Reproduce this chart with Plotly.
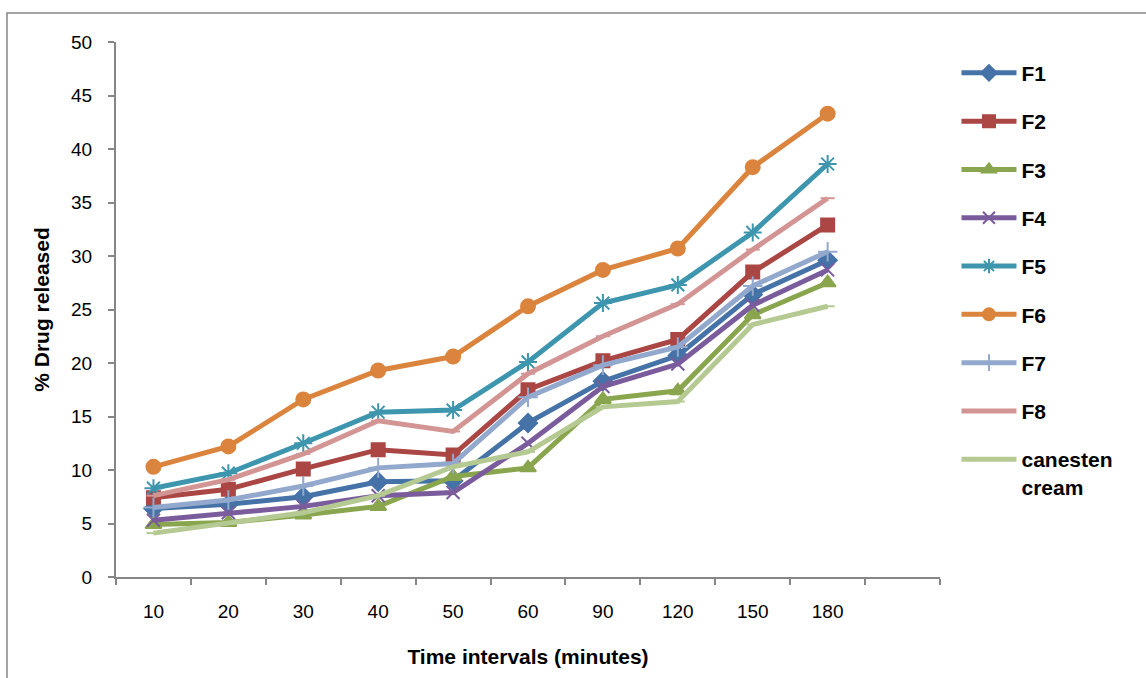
import plotly.graph_objects as go

times = ["10", "20", "30", "40", "50", "60", "90", "120", "150", "180"]
series_names = ["F1", "F2", "F3", "F4", "F5", "F6", "F7", "F8", "canesten<br>cream"]

F1 = [6.4, 6.8, 7.5, 8.9, 9.0, 14.4, 18.3, 20.7, 26.4, 29.6]
F2 = [7.4, 8.2, 10.1, 11.9, 11.4, 17.5, 20.2, 22.2, 28.5, 32.9]
F3 = [4.9, 5.1, 5.8, 6.6, 9.4, 10.2, 16.6, 17.4, 24.5, 27.5]
F4 = [5.3, 6.0, 6.6, 7.6, 7.9, 12.5, 17.8, 19.9, 25.4, 28.7]
F5 = [8.3, 9.7, 12.5, 15.4, 15.6, 20.1, 25.6, 27.3, 32.2, 38.6]
F6 = [10.3, 12.2, 16.6, 19.3, 20.6, 25.3, 28.7, 30.7, 38.3, 43.3]
F7 = [6.5, 7.2, 8.5, 10.2, 10.6, 16.8, 19.8, 21.5, 27.2, 30.4]
F8 = [7.6, 9.1, 11.5, 14.6, 13.6, 19.0, 22.5, 25.5, 30.6, 35.4]
canesten = [4.1, 5.0, 6.0, 7.6, 10.3, 11.7, 15.9, 16.4, 23.6, 25.3]

values = [F1, F2, F3, F4, F5, F6, F7, F8, canesten]
colors = ["#4572A7", "#AA4643", "#89A54E", "#7A5C9C", "#3D96AE",
          "#DB843D", "#92A8CD", "#D39594", "#B5CA92"]
symbols = ["diamond", "square", "triangle-up", "x-thin-open", "asterisk-open",
           "circle", "cross-thin-open", "line-ew-open", "line-ew-open"]
msizes = [14, 13, 14, 13, 15, 14, 14, 10, 10]

FONT = "Liberation Sans, Arial, sans-serif"
xs = list(range(len(times)))
nslots = len(times) + 1

fig = go.Figure()
for i, (name, vals) in enumerate(zip(series_names, values)):
    fig.add_trace(go.Scatter(
        x=xs, y=vals, name=name, mode="lines+markers",
        legendgroup=f"g{i}",
        line=dict(color=colors[i], width=5),
        marker=dict(symbol=symbols[i], size=msizes[i], color=colors[i],
                    line=dict(color=colors[i], width=2)),
    ))

fig.update_layout(
    width=1146, height=678,
    margin=dict(l=116, r=206, t=42, b=101),
    paper_bgcolor="white", plot_bgcolor="white",
    font=dict(family=FONT, color="black", size=19),
    showlegend=True,
    legend=dict(
        x=1.02, y=0.98, xanchor="left", yanchor="top",
        font=dict(family=FONT, size=21, color="black", weight="bold"),
        tracegroupgap=18, valign="top", bgcolor="rgba(0,0,0,0)",
        itemwidth=55, itemsizing="constant",
    ),
    xaxis=dict(
        range=[-0.5, nslots - 0.5], tickmode="array", tickvals=xs, ticktext=times,
        ticks="", showline=True, linecolor="#868686", linewidth=2,
        showgrid=False, zeroline=False, ticklabelstandoff=16,
        tickfont=dict(size=19),
        minor=dict(tickmode="array", tickvals=[k - 0.5 for k in range(nslots + 1)],
                   ticks="outside", ticklen=6, tickcolor="#868686", tickwidth=2,
                   showgrid=False),
        title=dict(text="Time intervals (minutes)", standoff=29,
                   font=dict(family=FONT, size=21, weight="bold")),
    ),
    yaxis=dict(
        range=[0, 50], dtick=5, tick0=0, ticks="outside", ticklen=6,
        tickcolor="#868686", tickwidth=2, showline=True, linecolor="#868686",
        linewidth=2, showgrid=False, zeroline=False, ticklabelstandoff=12,
        tickfont=dict(size=19),
        title=dict(text="% Drug released", standoff=16,
                   font=dict(family=FONT, size=21, weight="bold")),
    ),
    shapes=[dict(type="rect", xref="paper", yref="paper",
                 x0=-0.1323, x1=1.6, y0=-0.6, y1=1.0542,
                 line=dict(color="#868686", width=1.5), fillcolor="rgba(0,0,0,0)",
                 layer="below")],
)

fig.write_html("out.html")
